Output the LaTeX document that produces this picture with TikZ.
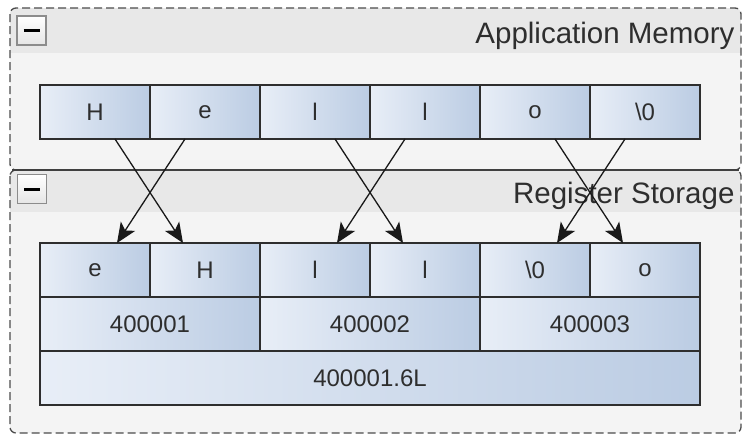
\documentclass[tikz,border=0pt]{standalone}
\usepackage{fontspec}
\setmainfont{Liberation Sans}
\usetikzlibrary{positioning}
\usetikzlibrary{arrows.meta}

\definecolor{cellL}{HTML}{E8EEF7}
\definecolor{cellR}{HTML}{BBCCE3}
\definecolor{grpbody}{HTML}{F4F4F4}
\definecolor{grphead}{HTML}{E8E8E8}
\definecolor{ink}{HTML}{2E2E2E}

\begin{document}
\begin{tikzpicture}[x=1pt,y=-1pt,
    cell/.style={draw=ink, line width=1.3pt, left color=cellL, right color=cellR,
      minimum width=110pt, minimum height=54pt, inner sep=0pt, outer sep=0pt,
      text=ink, font=\fontsize{24}{28}\selectfont},
    word/.style={cell, minimum width=220pt},
    toggle/.style={draw=black!45, line width=1.2pt, top color=white, bottom color=black!10,
      minimum size=29pt, inner sep=0pt},
    swap/.style={-{Stealth[length=20pt,width=17pt,inset=5pt]}, line width=1.3pt, draw=black!90},
    grp/.style={draw=black!70, line width=1.3pt, dash pattern=on 8pt off 4pt, rounded corners=6pt},
    title/.style={anchor=base east, text=ink, font=\fontsize{29.5}{34}\selectfont}]
  \useasboundingbox (0,0) rectangle (743,434);

  % group backgrounds with their header bands
  \begin{scope}
    \clip[rounded corners=6pt] (10,8) rectangle (741,170);
    \fill[grpbody] (10,8) rectangle (741,170);
    \fill[grphead] (10,8) rectangle (741,53);
  \end{scope}
  \begin{scope}
    \clip[rounded corners=6pt] (10,170) rectangle (741,433);
    \fill[grpbody] (10,170) rectangle (741,433);
    \fill[grphead] (10,170) rectangle (741,212);
  \end{scope}
  \draw[grp] (10,8) rectangle (741,170);
  \draw[grp] (10,170) rectangle (741,433);
  \draw[line width=1.3pt, black!75] (12,170) -- (739,170);

  \node[title] (memtitle) at (738,43) {Application Memory};
  \node[title] (regtitle) at (738,203) {Register Storage};
  \node[toggle] (memtog) at (31.5,30.5) {};
  \node[toggle] (regtog) at (32,189) {};
  \foreach \t in {memtog, regtog}
    \draw[line width=3pt] ([xshift=-8pt]\t.center) -- ([xshift=8pt]\t.center);

  % bytes in memory
  \node[cell] (mH) at (95,112) {H};
  \node[cell, right=0pt of mH] (me) {e};
  \node[cell, right=0pt of me] (ml) {l};
  \node[cell, right=0pt of ml] (mll) {l};
  \node[cell, right=0pt of mll] (mo) {o};
  \node[cell, right=0pt of mo] (mnul) {\textbackslash0};

  % bytes in the register, then words and the double word
  \node[cell] (re) at (95,270) {e};
  \node[cell, right=0pt of re] (rH) {H};
  \node[cell, right=0pt of rH] (rl) {l};
  \node[cell, right=0pt of rl] (rll) {l};
  \node[cell, right=0pt of rll] (rnul) {\textbackslash0};
  \node[cell, right=0pt of rnul] (ro) {o};
  \node[word, anchor=north west] (w1) at (re.south west) {400001};
  \node[word, anchor=north west] (w2) at (rl.south west) {400002};
  \node[word, anchor=north west] (w3) at (rnul.south west) {400003};
  \node[cell, minimum width=660pt, anchor=north west] (dw) at (w1.south west) {400001.6L};

  \foreach \lt/\rt/\lb/\rb in {mH/me/re/rH, ml/mll/rl/rll, mo/mnul/rnul/ro} {
    \draw[swap] ([xshift=-35pt]\lt.south east) -- ([xshift=33pt]\rb.north west);
    \draw[swap] ([xshift=35pt]\rt.south west) -- ([xshift=-33pt]\lb.north east);
  }
\end{tikzpicture}
\end{document}
